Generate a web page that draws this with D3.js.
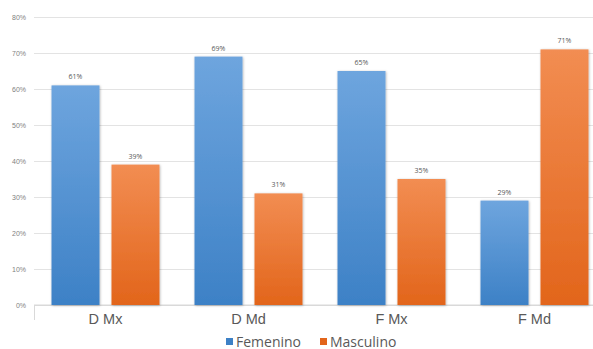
<!DOCTYPE html>
<html>
<head>
<meta charset="utf-8">
<script src="https://cdn.jsdelivr.net/npm/d3@7/dist/d3.min.js"></script>
<style>
  html, body { margin: 0; padding: 0; background: #fff; }
  svg { display: block; font-family: "Open Sans", "Liberation Sans", sans-serif; }
</style>
</head>
<body>
<svg id="chart" width="593" height="349"></svg>
<script>
// Share of each group by sex
const categories = ["D Mx", "D Md", "F Mx", "F Md"];
const series = ["Femenino", "Masculino"];
const femenino = [0.61, 0.69, 0.65, 0.29];
const masculino = [0.39, 0.31, 0.35, 0.71];
const yTicks = [0, 0.1, 0.2, 0.3, 0.4, 0.5, 0.6, 0.7, 0.8];

(function () {
const values = { Femenino: femenino, Masculino: masculino };
const rows = categories.map((c, i) => ({ cat: c, vals: series.map(s => ({ s, v: values[s][i] })) }));

const svg = d3.select("#chart");
const plotLeft = 34, plotRight = 606, plotTop = 17, plotBottom = 305;

const x0 = d3.scaleBand().domain(categories).range([plotLeft, plotRight])
  .paddingInner(0.245).paddingOuter(0.1225);
const x1 = d3.scaleBand().domain(series).range([0, x0.bandwidth()]).paddingInner(0.2);
const y = d3.scaleLinear().domain([0, 0.8]).range([plotBottom, plotTop]);

const defs = svg.append("defs");
const grads = {
  Femenino: ["#6ea5de", "#3d81c6"],
  Masculino: ["#f28d52", "#e2651b"]
};
Object.entries(grads).forEach(([k, [c0, c1]]) => {
  const g = defs.append("linearGradient").attr("id", "g-" + k)
    .attr("x1", 0).attr("y1", 0).attr("x2", 0).attr("y2", 1);
  g.append("stop").attr("offset", "0%").attr("stop-color", c0);
  g.append("stop").attr("offset", "100%").attr("stop-color", c1);
});
const f = defs.append("filter").attr("id", "shadow")
  .attr("x", "-20%").attr("y", "-10%").attr("width", "140%").attr("height", "120%");
f.append("feDropShadow").attr("dx", 0.6).attr("dy", 0.6).attr("stdDeviation", 0.9)
  .attr("flood-color", "#000").attr("flood-opacity", 0.3);

// Gridlines and y tick labels
const yAxis = d3.axisLeft(y).tickValues(yTicks).tickFormat(d3.format(".0%"))
  .tickSize(-(plotRight - plotLeft)).tickPadding(8);
const ga = svg.append("g").attr("transform", `translate(${plotLeft},0)`).call(yAxis);
ga.select(".domain").remove();
ga.selectAll(".tick line").attr("stroke", "#e3e3e3").attr("stroke-width", 1);
ga.selectAll(".tick text").attr("fill", "#7f7f7f").attr("font-size", 7);
ga.selectAll(".tick").filter(d => d === 0).select("line").attr("stroke", "#d9d9d9");

// Category axis
const xAxis = d3.axisBottom(x0).tickSize(0).tickPadding(9);
const gx = svg.append("g").attr("transform", `translate(0,${plotBottom})`).call(xAxis);
gx.select(".domain").attr("stroke", "#d9d9d9").attr("d", `M${plotLeft},0H${plotRight}`);
gx.selectAll(".tick text").attr("fill", "#595959").attr("font-size", 14.5);
svg.append("line").attr("x1", plotLeft + 0.5).attr("x2", plotLeft + 0.5)
  .attr("y1", plotBottom).attr("y2", plotBottom + 15).attr("stroke", "#d9d9d9");

// Bars
const groups = svg.append("g").selectAll("g").data(rows).join("g")
  .attr("transform", d => `translate(${x0(d.cat)},0)`);
groups.selectAll("rect").data(d => d.vals).join("rect")
  .attr("x", d => x1(d.s))
  .attr("width", x1.bandwidth())
  .attr("y", d => y(d.v))
  .attr("height", d => y(0) - y(d.v))
  .attr("fill", d => `url(#g-${d.s})`)
  .attr("filter", "url(#shadow)");
groups.selectAll("text").data(d => d.vals).join("text")
  .attr("x", d => x1(d.s) + x1.bandwidth() / 2)
  .attr("y", d => y(d.v) - 6)
  .attr("text-anchor", "middle")
  .attr("font-size", 7)
  .attr("fill", "#595959")
  .text(d => d3.format(".0%")(d.v));

// Legend
const legendX = [226, 320];
const lg = svg.append("g").selectAll("g").data(series).join("g")
  .attr("transform", (d, i) => `translate(${legendX[i]},338)`);
lg.append("rect").attr("width", 7).attr("height", 7).attr("y", 0)
  .attr("fill", d => grads[d][1]);
lg.append("text").attr("x", 10).attr("y", 8.5).attr("font-size", 14)
  .attr("fill", "#595959").text(d => d);
})();
</script>
</body>
</html>
